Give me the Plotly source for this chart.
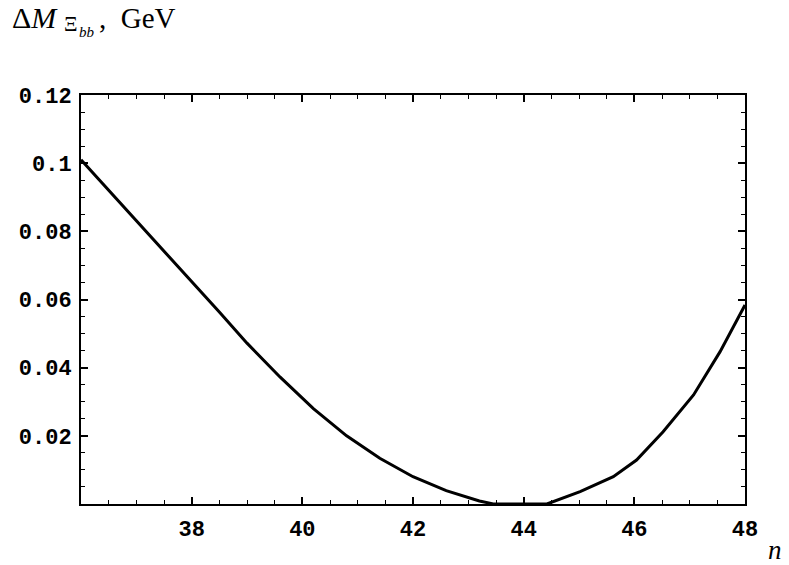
import plotly.graph_objects as go

n_vals = [36.0, 36.5, 37.0, 37.5, 38.0, 38.5, 39.0, 39.6, 40.2, 40.8, 41.4, 42.0,
          42.6, 43.2, 43.45, 44.42, 45.02, 45.62, 46.04, 46.52, 47.07, 47.55, 48.0]
dm_vals = [0.101, 0.0921, 0.0832, 0.0743, 0.0653, 0.0563, 0.0472, 0.0372, 0.0280,
           0.0200, 0.0134, 0.0080, 0.0039, 0.0009, 0.0, 0.0, 0.0036, 0.0080,
           0.0129, 0.0212, 0.0320, 0.0447, 0.0584]

x_ticks = [38, 40, 42, 44, 46, 48]
y_ticks = [0.02, 0.04, 0.06, 0.08, 0.10, 0.12]
y_tick_text = ["0.02", "0.04", "0.06", "0.08", "0.1", "0.12"]

tick_font = dict(family="Liberation Mono, Courier New, monospace", size=22,
                 color="black", weight="bold")

L, R, T, B, W, H = 81, 44, 95, 61, 789, 565
PW, PH = W - L - R, H - T - B


def px(xp):
    return (xp - L) / PW


def py(yp):
    return (H - B - yp) / PH


fig = go.Figure()
fig.add_trace(go.Scatter(x=n_vals, y=dm_vals, mode="lines",
                         line=dict(color="black", width=3), showlegend=False))

axis_common = dict(showline=True, linecolor="black", linewidth=2, mirror="ticks",
                   ticks="inside", tickcolor="black", tickwidth=1.5, ticklen=7,
                   showgrid=False, zeroline=False, tickfont=tick_font)

fig.update_xaxes(range=[36, 48], tickvals=x_ticks, ticktext=[str(v) for v in x_ticks],
                 minor=dict(ticks="inside", dtick=0.5, tick0=36, ticklen=4,
                            tickcolor="black", tickwidth=1, showgrid=False),
                 ticklabelstandoff=4, **axis_common)
fig.update_yaxes(range=[0, 0.12], tickvals=y_ticks, ticktext=y_tick_text,
                 minor=dict(ticks="inside", dtick=0.005, tick0=0, ticklen=4,
                            tickcolor="black", tickwidth=1, showgrid=False),
                 ticklabelstandoff=3, **axis_common)

serif = "Liberation Serif, serif"
title_parts = [
    ("Δ<i>M</i>", 10, 18, 30),
    ("Ξ", 62, 24, 21),
    ("<i>bb</i>", 77, 32, 15),
    (",  GeV", 97, 18, 29),
]
for txt, xl, ym, sz in title_parts:
    fig.add_annotation(xref="paper", yref="paper", x=px(xl), y=py(ym),
                       xanchor="left", yanchor="middle", text=txt, showarrow=False,
                       font=dict(family=serif, size=sz, color="black"))

fig.add_annotation(
    xref="paper", yref="paper", x=px(766), y=py(550), xanchor="left", yanchor="middle",
    text="<i>n</i>", showarrow=False,
    font=dict(family=serif, size=27, color="black"))

fig.update_layout(width=W, height=H, margin=dict(l=L, r=R, t=T, b=B),
                  paper_bgcolor="white", plot_bgcolor="white")

fig.write_html("out.html", config={"displayModeBar": False},
               post_script="document.body.style.margin='0';document.body.style.padding='0';")
